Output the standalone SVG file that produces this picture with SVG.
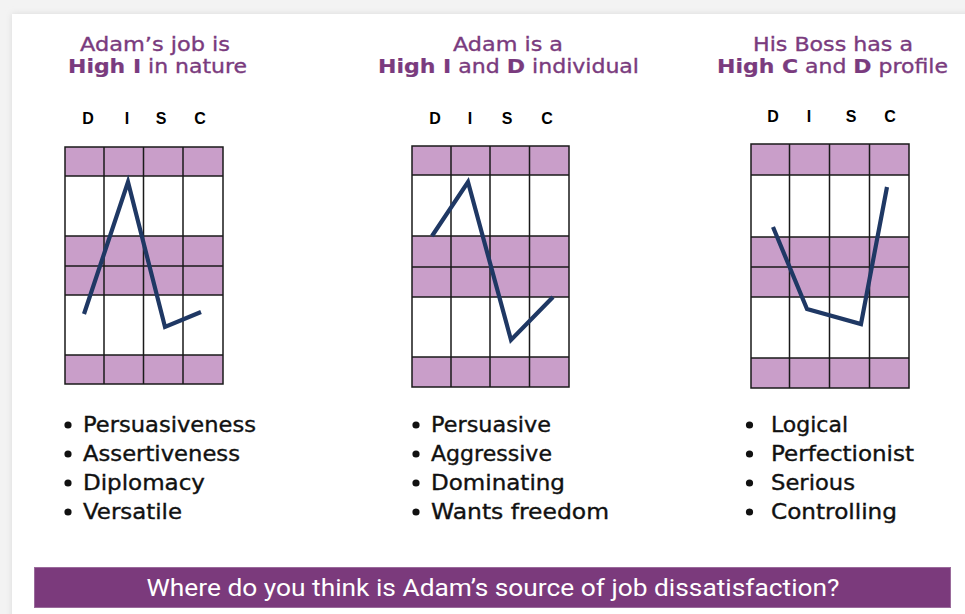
<svg xmlns="http://www.w3.org/2000/svg" width="965" height="614" viewBox="0 0 965 614">
  <defs>
    <filter id="cardShadow" x="-5%" y="-5%" width="110%" height="110%">
      <feGaussianBlur stdDeviation="3"/>
    </filter>
    <style>
      .title { font-family: "DejaVu Sans", "Open Sans", sans-serif; font-size: 19.5px; fill: #7a3b7e; stroke: #7a3b7e; stroke-width: 0.35; text-anchor: middle; }
      .title .b { font-weight: bold; stroke-width: 0.2; }
      .disc { font-family: "Liberation Sans", Arial, sans-serif; font-weight: bold; font-size: 16px; fill: #000; text-anchor: middle; }
      .band { fill: #c99ec9; }
      .grid { stroke: #1a1a1a; stroke-width: 1.5; fill: none; }
      .plot { stroke: #1f3864; stroke-width: 4.2; fill: none; stroke-linejoin: miter; stroke-linecap: butt; }
      .item { font-family: "DejaVu Sans", "Open Sans", sans-serif; font-size: 20.5px; fill: #111; stroke: #111; stroke-width: 0.35; }
      .dot { fill: #111; }
      .banner { fill: #7b3a7c; stroke: #9a6a9b; stroke-width: 1; }
      .question { font-family: "Roboto", "Liberation Sans", sans-serif; font-size: 24px; fill: #ffffff; text-anchor: middle; }
    </style>
  </defs>

  <!-- page and card -->
  <rect x="0" y="0" width="965" height="614" fill="#f3f3f3"/>
  <rect x="12" y="14" width="970" height="620" fill="#dadada" filter="url(#cardShadow)"/>
  <rect x="12" y="14" width="970" height="620" fill="#ffffff"/>

  <!-- profile 1: the job -->
  <g id="job-profile">
    <text class="title" x="155" y="50.7" textLength="150" lengthAdjust="spacingAndGlyphs">Adam’s job is</text>
    <text class="title" x="157.5" y="73.4" textLength="179" lengthAdjust="spacingAndGlyphs"><tspan class="b">High I</tspan> in nature</text>
    <text class="disc" x="88" y="124">D</text>
    <text class="disc" x="127" y="124">I</text>
    <text class="disc" x="161" y="124">S</text>
    <text class="disc" x="200" y="124">C</text>
    <rect class="band" x="65" y="147" width="158" height="29"/>
    <rect class="band" x="65" y="236" width="158" height="59"/>
    <rect class="band" x="65" y="355" width="158" height="29"/>
    <path class="grid" d="M65 147H223V384H65Z M104 147V384 M143.5 147V384 M183 147V384 M65 176H223 M65 236H223 M65 266H223 M65 295H223 M65 355H223"/>
    <polyline class="plot" points="84,314 128,182 165,327 201,312"/>
    <circle class="dot" cx="68" cy="425" r="3.6"/>
    <circle class="dot" cx="68" cy="454" r="3.6"/>
    <circle class="dot" cx="68" cy="483" r="3.6"/>
    <circle class="dot" cx="68" cy="512" r="3.6"/>
    <text class="item" x="83" y="432" textLength="173" lengthAdjust="spacingAndGlyphs">Persuasiveness</text>
    <text class="item" x="83" y="461" textLength="157" lengthAdjust="spacingAndGlyphs">Assertiveness</text>
    <text class="item" x="83" y="490" textLength="122" lengthAdjust="spacingAndGlyphs">Diplomacy</text>
    <text class="item" x="83" y="519" textLength="99" lengthAdjust="spacingAndGlyphs">Versatile</text>
  </g>

  <!-- profile 2: Adam -->
  <g id="adam-profile">
    <text class="title" x="508" y="50.7" textLength="110" lengthAdjust="spacingAndGlyphs">Adam is a</text>
    <text class="title" x="508.5" y="73.4" textLength="261" lengthAdjust="spacingAndGlyphs"><tspan class="b">High I</tspan> and <tspan class="b">D</tspan> individual</text>
    <text class="disc" x="435" y="124">D</text>
    <text class="disc" x="470" y="124">I</text>
    <text class="disc" x="507" y="124">S</text>
    <text class="disc" x="547" y="124">C</text>
    <rect class="band" x="412" y="146" width="157" height="29"/>
    <rect class="band" x="412" y="236" width="157" height="61"/>
    <rect class="band" x="412" y="357" width="157" height="30"/>
    <path class="grid" d="M412 146H569V387H412Z M451 146V387 M490 146V387 M529.5 146V387 M412 175H569 M412 236H569 M412 267H569 M412 297H569 M412 357H569"/>
    <polyline class="plot" points="432,236 468,182 511,340 553,297"/>
    <circle class="dot" cx="416" cy="425" r="3.6"/>
    <circle class="dot" cx="416" cy="454" r="3.6"/>
    <circle class="dot" cx="416" cy="483" r="3.6"/>
    <circle class="dot" cx="416" cy="512" r="3.6"/>
    <text class="item" x="431" y="432" textLength="120" lengthAdjust="spacingAndGlyphs">Persuasive</text>
    <text class="item" x="431" y="461" textLength="121" lengthAdjust="spacingAndGlyphs">Aggressive</text>
    <text class="item" x="431" y="490" textLength="134" lengthAdjust="spacingAndGlyphs">Dominating</text>
    <text class="item" x="431" y="519" textLength="178" lengthAdjust="spacingAndGlyphs">Wants freedom</text>
  </g>

  <!-- profile 3: the boss -->
  <g id="boss-profile">
    <text class="title" x="833" y="50.7" textLength="160" lengthAdjust="spacingAndGlyphs">His Boss has a</text>
    <text class="title" x="832.5" y="73.4" textLength="231" lengthAdjust="spacingAndGlyphs"><tspan class="b">High C</tspan> and <tspan class="b">D</tspan> profile</text>
    <text class="disc" x="773" y="122">D</text>
    <text class="disc" x="809" y="122">I</text>
    <text class="disc" x="851" y="122">S</text>
    <text class="disc" x="890" y="122">C</text>
    <rect class="band" x="751" y="144" width="158" height="31"/>
    <rect class="band" x="751" y="237" width="158" height="60"/>
    <rect class="band" x="751" y="358" width="158" height="30"/>
    <path class="grid" d="M751 144H909V388H751Z M789.5 144V388 M829.5 144V388 M869.5 144V388 M751 175H909 M751 237H909 M751 267H909 M751 297H909 M751 358H909"/>
    <polyline class="plot" points="773,227 807,309 861,324 887,187"/>
    <circle class="dot" cx="749.5" cy="425" r="3.6"/>
    <circle class="dot" cx="749.5" cy="454" r="3.6"/>
    <circle class="dot" cx="749.5" cy="483" r="3.6"/>
    <circle class="dot" cx="749.5" cy="512" r="3.6"/>
    <text class="item" x="771" y="432" textLength="77" lengthAdjust="spacingAndGlyphs">Logical</text>
    <text class="item" x="771" y="461" textLength="143" lengthAdjust="spacingAndGlyphs">Perfectionist</text>
    <text class="item" x="771" y="490" textLength="84" lengthAdjust="spacingAndGlyphs">Serious</text>
    <text class="item" x="771" y="519" textLength="126" lengthAdjust="spacingAndGlyphs">Controlling</text>
  </g>

  <!-- closing question -->
  <g id="question">
    <rect class="banner" x="34.5" y="567.5" width="916" height="40"/>
    <text class="question" x="493" y="595.5" textLength="693" lengthAdjust="spacingAndGlyphs">Where do you think is Adam’s source of job dissatisfaction?</text>
  </g>
</svg>
